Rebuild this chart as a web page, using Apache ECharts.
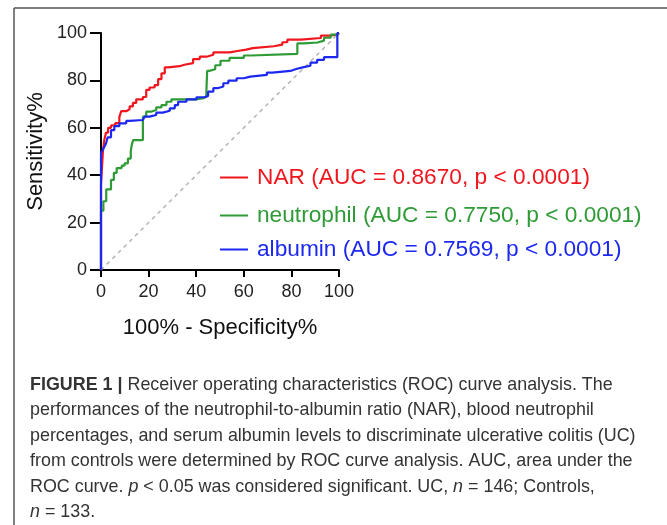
<!DOCTYPE html>
<html>
<head>
<meta charset="utf-8">
<script src="https://cdn.jsdelivr.net/npm/echarts@6/dist/echarts.min.js"></script>
<style>
html,body{margin:0;padding:0;background:#fff;}
#chart{width:667px;height:525px;}
</style>
</head>
<body>
<div id="chart"></div>
<script>
// ---- data ----
var seriesNames = [
  'NAR (AUC = 0.8670, p < 0.0001)',
  'neutrophil (AUC = 0.7750, p < 0.0001)',
  'albumin (AUC = 0.7569, p < 0.0001)'
];
// x = 100% - Specificity%, y = Sensitivity%
var narX = [0,0,0.8,1.4,2.1,3,4.2,6,7.7,8.5,10.6,12,13.4,14.8,17.6,19,20.4,22.5,24,25.4,26.8,28.2,33,35,38.7,41.5,44.4,47.2,54,58,61,63.8,72.6,76.2,78.3,84,92.4,96,99.3,100];
var narY = [0,36,50,55,58,60,61,62,64.5,67,67.8,69,70.5,72,73,76,77,78,80.5,83,85.5,86,86.6,87.3,89,90,90.8,91.8,92.5,93,93.6,94.4,95.1,96.1,97.2,97.9,98.9,99.3,100,100];
var neuX = [0,0,1,2.2,4.2,5.4,6.6,8.7,9.9,11.3,12.5,12.9,13.5,17.6,19,21,23.2,25.4,27.5,29.6,40,43,44.2,44.6,45.5,48,50.2,54,60,63,82.5,85.2,91,93.7,96.5,99.3,100];
var neuY = [0,25,29,34,38,41,43,44,45,47,50,52.7,54.8,64.7,66.8,67.5,68.6,69.6,71,72,72.5,73.2,73.9,84,84.7,86.4,88.3,89.5,90.5,91.2,95.6,96,96.8,98,99.3,100,100];
var albX = [0,0,0,0.7,1.4,2.1,2.8,4.2,5.6,7.7,10.6,12,17.6,18.3,20.4,23.2,26,28.9,31,32.4,35.9,40.1,43.7,45,47.2,49,51.4,53.5,57,60,62.7,69.7,72,79.6,82,85.2,88,90.8,93.7,99.3,100];
var albY = [0,20,49.5,50.6,52,53.4,56,59,60.7,61.9,62.9,63.3,63.6,64.7,65.4,66.4,67.2,68.2,69.6,71,72,72.9,73.4,75.3,76.7,77.4,78.8,79.9,80.9,81.6,82.3,83.3,84,84.8,85.6,86.2,87.5,88.7,89.8,100,100];
var diagX = [0,100];
var diagY = [0,100];
var captionLines = [
  '{b|FIGURE 1 |} Receiver operating characteristics (ROC) curve analysis. The',
  'performances of the neutrophil-to-albumin ratio (NAR), blood neutrophil',
  'percentages, and serum albumin levels to discriminate ulcerative colitis (UC)',
  'from controls were determined by ROC curve analysis. AUC, area under the',
  'ROC curve. {i|p} < 0.05 was considered significant. UC, {i|n} = 146; Controls,',
  '{i|n} = 133.'
];

function pairs(xs, ys){ return xs.map(function(x,i){ return [x, ys[i]]; }); }

var colors = ['#f0161e', '#2e9b36', '#1c28f0'];
var FONT = '"Liberation Sans", Arial, sans-serif';

var chart = echarts.init(document.getElementById('chart'), null, {renderer:'canvas'});

var legendTops = [161, 199, 233];
var legends = seriesNames.map(function(n, i){
  return {
    data: [n], left: 215, top: legendTops[i], orient: 'vertical',
    icon: 'rect', itemWidth: 28, itemHeight: 2,
    textStyle: {color: colors[i], fontSize: 22.7, fontFamily: FONT, padding:[0,0,0,4]},
    selectedMode: false
  };
});

var graphics = [
  {type:'line', shape:{x1:14,y1:8,x2:667,y2:8}, style:{stroke:'#555', lineWidth:1.5}, silent:true},
  {type:'line', shape:{x1:14,y1:8,x2:14,y2:525}, style:{stroke:'#555', lineWidth:1.5}, silent:true}
];
var capY0 = 386, capDy = 25.4, capFs = 17.9;
captionLines.forEach(function(t, i){
  graphics.push({
    type:'text', left: 30, top: capY0 + i*capDy - 10, silent:true,
    style:{
      text: t, fill:'#333', fontSize:capFs, fontFamily: FONT,
      rich:{
        b:{fontWeight:'bold', fill:'#333', fontSize:capFs, fontFamily: FONT},
        i:{fontStyle:'italic', fill:'#333', fontSize:capFs, fontFamily: FONT}
      }
    }
  });
});

var option = {
  animation: false,
  backgroundColor: '#fff',
  grid: {left: 101, right: 328, top: 33, bottom: 255, containLabel: false},
  legend: legends,
  xAxis: {
    type: 'value', min: 0, max: 100, interval: 20,
    name: '100% - Specificity%', nameLocation: 'middle', nameGap: 47,
    nameTextStyle: {fontSize: 22, color: '#111', fontFamily: FONT},
    axisLine: {show: true, lineStyle: {color: '#000', width: 2}},
    axisTick: {show: true, length: 7, lineStyle: {color: '#000', width: 2}},
    axisLabel: {fontSize: 18, color: '#222', margin: 13, fontFamily: FONT},
    splitLine: {show: false}
  },
  yAxis: {
    type: 'value', min: 0, max: 100, interval: 20,
    name: 'Sensitivity%', nameLocation: 'middle', nameGap: 54, nameRotate: 90,
    nameTextStyle: {fontSize: 22, color: '#111', fontFamily: FONT},
    axisLine: {show: true, lineStyle: {color: '#000', width: 2}},
    axisTick: {show: true, length: 11, lineStyle: {color: '#000', width: 2}},
    axisLabel: {fontSize: 18, color: '#222', margin: 14, fontFamily: FONT},
    splitLine: {show: false}
  },
  series: [
    {type:'line', name:'diag', data: pairs(diagX, diagY), showSymbol:false, silent:true,
     lineStyle:{color:'#b5b5b5', width:1.5, type:[4,4]}, z:1},
    {type:'line', name: seriesNames[0], data: pairs(narX, narY), step:'end', showSymbol:false,
     lineStyle:{color: colors[0], width:2.2}, itemStyle:{color: colors[0]}, z:2},
    {type:'line', name: seriesNames[1], data: pairs(neuX, neuY), step:'end', showSymbol:false,
     lineStyle:{color: colors[1], width:2.2}, itemStyle:{color: colors[1]}, z:3},
    {type:'line', name: seriesNames[2], data: pairs(albX, albY), step:'end', showSymbol:false,
     lineStyle:{color: colors[2], width:2.2}, itemStyle:{color: colors[2]}, z:4}
  ],
  graphic: graphics
};
chart.setOption(option);
</script>
</body>
</html>
